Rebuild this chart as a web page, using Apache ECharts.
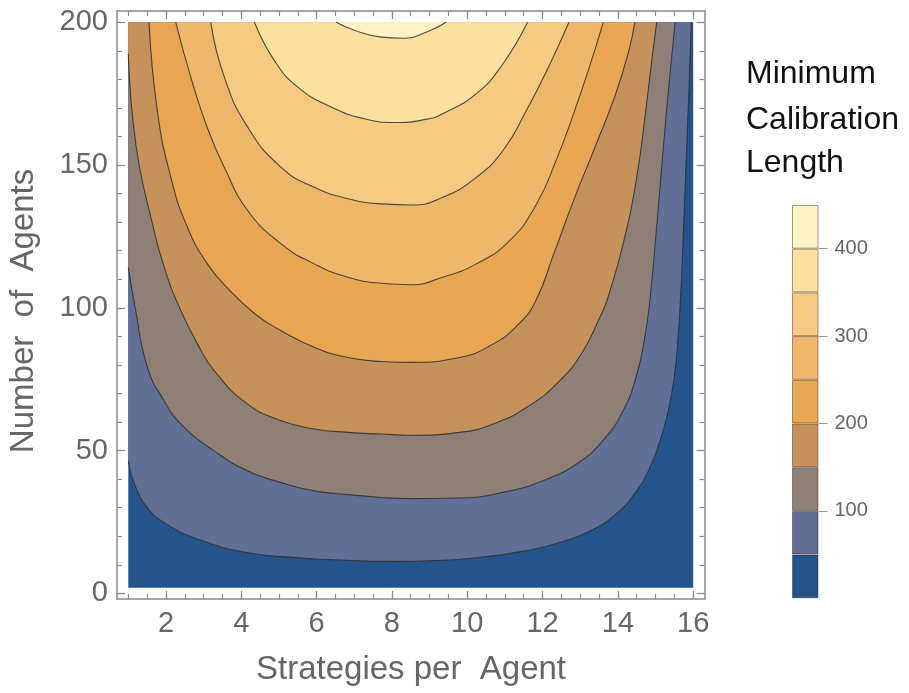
<!DOCTYPE html>
<html><head><meta charset="utf-8">
<script src="https://cdn.jsdelivr.net/npm/echarts@6/dist/echarts.min.js"></script>
<style>html,body{margin:0;padding:0;background:#fff}#c{width:909px;height:693px}</style>
</head><body><div id="c"></div>
<script>
// ---- data (s = strategies per agent, N = number of agents) ----
const xTickValues = [2, 4, 6, 8, 10, 12, 14, 16];
const yTickValues = [0, 50, 100, 150, 200];
const legendTickValues = [100, 200, 300, 400];
const contourLevels = [50, 100, 150, 200, 250, 300, 350, 400];
const legendEdges = [0, 50, 100, 150, 200, 250, 300, 350, 400, 450];
const dataRangeS = [1, 16];
const dataRangeN = [2, 200];

const level50 = [[1,46.4],[1.15,38.8],[1.5,30.1],[1.95,24.8],[2.85,19.0],[4.15,14.3],[5.5,12.5],[6.8,11.6],[8,11.2],[9.2,11.5],[10.25,12.5],[11.55,14.9],[12.45,17.8],[13.35,22.5],[13.95,27.8],[14.5,35.9],[14.85,44.1],[15.12,53.5],[15.34,64],[15.5,76],[15.6,90],[15.67,105],[15.75,130],[15.83,157],[15.9,181],[15.95,200]];
const level100 = [[1,114.2],[1.17,101],[1.51,79.1],[1.95,67.5],[2.4,59.3],[3.28,49.9],[4.17,42.9],[5.06,38.8],[5.94,35.9],[6.83,34.6],[7.72,33.6],[8.5,33.2],[9.8,33.4],[11.13,35.9],[12.0,39.4],[12.9,45.3],[13.6,53.5],[14.14,64],[14.48,75.6],[14.7,88.5],[14.84,101.5],[15.04,130],[15.2,155],[15.37,180],[15.52,200]];
const level150 = [[1,189],[1.2,157.4],[1.6,131.7],[2.04,110.7],[2.37,99.8],[2.84,87.3],[3.28,78],[4.17,66.3],[5.06,60.5],[5.94,57.6],[6.83,56.4],[7.72,55.8],[8.5,55.4],[9.8,56.4],[10.68,59.3],[11.57,65.1],[12.46,74.5],[13.08,85],[13.52,96.7],[13.72,103],[14.14,122.4],[14.5,145.7],[14.74,169.1],[14.9,186.6],[15.03,200]];
const level200 = [[1.55,200],[1.77,169.1],[2.13,145.7],[2.57,128.2],[3.1,115.4],[3.7,106],[4.4,97.5],[5.06,92],[5.94,86.2],[6.83,82.6],[7.72,81.2],[8.5,80.9],[9.8,82.6],[10.68,87.3],[11.3,93.5],[11.8,102],[12.3,119],[12.85,138.5],[13.4,156.5],[13.93,174.5],[14.28,189.5],[14.45,200]];
const level250 = [[2.26,200],[2.66,180.8],[3.1,163],[3.55,149.2],[4.17,134.1],[5.06,122.4],[5.94,115.4],[6.83,110.7],[7.72,108.6],[8.5,108.1],[9.35,110.7],[10.24,115.4],[11.13,123.6],[11.84,136.4],[12.37,152],[12.85,169],[13.26,185],[13.61,200]];
const level300 = [[3.19,200],[3.55,180.8],[4.17,163.3],[5.06,149.2],[5.94,142.2],[6.83,138.2],[7.72,136.4],[8.5,136],[9.35,138.7],[10.24,145.7],[10.95,155.1],[11.57,169.1],[12.2,185.5],[12.7,200]];
const level350 = [[4.35,200],[4.88,186.6],[5.5,177.3],[6.39,170.3],[7.27,166.2],[8.1,164.9],[8.9,166],[9.35,168],[10.24,175],[10.95,185.5],[11.6,200]];
const level400 = [[6.52,200],[7.0,197.2],[7.72,194.8],[8.3,194.4],[8.91,196.5],[9.44,200]];

const bandColors = ['#24548b','#616f96','#8f8077','#c6915a','#e8a552','#efb76c','#f7ca84','#fde09f','#fff3c4'];

// ---- chart ----
const contours = [level50, level100, level150, level200, level250, level300, level350, level400];
const FONT = '"Liberation Sans", Arial, sans-serif';
const xMin = 0.7, xMax = 16.3, yMin = -1.96, yMax = 203.96;
function steps(a, b, st) { const r = []; for (let v = a; v <= b + 1e-9; v += st) r.push(+v.toFixed(4)); return r; }
const frameLine = { color: '#8a8a8a', width: 1.5 };
const tickLine = { color: '#8a8a8a', width: 1.2 };

function xAx(pos, major, labels) {
  return {
    gridIndex: 0, type: 'value', position: pos, min: xMin, max: xMax,
    axisLine: { show: major, onZero: false, lineStyle: frameLine },
    axisTick: { show: true, inside: true, length: major ? 8 : 5, customValues: major ? xTickValues : steps(1, 16, 0.5), lineStyle: tickLine },
    axisLabel: labels ? { show: true, customValues: xTickValues, fontSize: 29, color: '#666', fontFamily: FONT, margin: 10 } : { show: false },
    splitLine: { show: false }
  };
}
function yAx(pos, major, labels) {
  return {
    gridIndex: 0, type: 'value', position: pos, min: yMin, max: yMax,
    axisLine: { show: major, onZero: false, lineStyle: frameLine },
    axisTick: { show: true, inside: true, length: major ? 8 : 5, customValues: major ? yTickValues : steps(0, 200, 10), lineStyle: tickLine },
    axisLabel: labels ? { show: true, customValues: yTickValues, fontSize: 29, color: '#666', fontFamily: FONT, margin: 9 } : { show: false },
    splitLine: { show: false }
  };
}

const series = [];
series.push({
  type: 'line', xAxisIndex: 0, yAxisIndex: 0, silent: true, symbol: 'none',
  data: [[dataRangeS[0], dataRangeN[0]], [dataRangeS[1], dataRangeN[0]]],
  lineStyle: { width: 0 },
  areaStyle: { color: bandColors[0], origin: dataRangeN[1], opacity: 1 }
});
contours.forEach((pts, i) => {
  series.push({
    type: 'line', name: String(contourLevels[i]), xAxisIndex: 0, yAxisIndex: 0, silent: true,
    symbol: 'none', showSymbol: false, smooth: 0.5, data: pts,
    lineStyle: { color: '#2e2e2e', width: 1.1, opacity: 0.85 },
    areaStyle: { color: bandColors[i + 1], origin: dataRangeN[1], opacity: 1 }
  });
});
legendEdges.slice(1).forEach((e, i) => {
  series.push({
    type: 'bar', xAxisIndex: 4, yAxisIndex: 4, stack: 'cb', silent: true,
    data: [e - legendEdges[i]], barWidth: '100%',
    itemStyle: { color: bandColors[i], borderColor: 'rgba(50,35,20,0.45)', borderWidth: 1 }
  });
});

const option = {
  animation: false,
  backgroundColor: '#ffffff',
  grid: [
    { left: 117, top: 11, width: 587.5, height: 588 },
    { left: 792, top: 205, width: 26.5, height: 393.3 }
  ],
  xAxis: [
    xAx('bottom', true, true), xAx('bottom', false, false),
    xAx('top', true, false), xAx('top', false, false),
    { gridIndex: 1, type: 'category', data: [''], show: false }
  ],
  yAxis: [
    yAx('left', true, true), yAx('left', false, false),
    yAx('right', true, false), yAx('right', false, false),
    {
      gridIndex: 1, type: 'value', position: 'right', min: legendEdges[0], max: legendEdges[legendEdges.length - 1],
      axisLine: { show: false },
      axisTick: { show: true, inside: false, length: 9, customValues: legendTickValues, lineStyle: { color: '#999', width: 1 } },
      axisLabel: { show: true, customValues: legendTickValues, fontSize: 20, color: '#666', fontFamily: FONT, margin: 16 },
      splitLine: { show: false }
    }
  ],
  series: series,
  graphic: [
    { type: 'text', x: 24, y: 311, rotation: Math.PI / 2, silent: true,
      style: { text: 'Number  of  Agents', fontSize: 33, fontFamily: FONT, fill: '#666', align: 'center', verticalAlign: 'middle' } },
    { type: 'text', x: 411, y: 670, silent: true,
      style: { text: 'Strategies per  Agent', fontSize: 33, fontFamily: FONT, fill: '#666', align: 'center', verticalAlign: 'middle' } },
    { type: 'text', x: 746, y: 74, silent: true,
      style: { text: 'Minimum', fontSize: 32, fontFamily: FONT, fill: '#111', align: 'left', verticalAlign: 'middle' } },
    { type: 'text', x: 746, y: 120, silent: true,
      style: { text: 'Calibration', fontSize: 32, fontFamily: FONT, fill: '#111', align: 'left', verticalAlign: 'middle' } },
    { type: 'text', x: 746, y: 163, silent: true,
      style: { text: 'Length', fontSize: 32, fontFamily: FONT, fill: '#111', align: 'left', verticalAlign: 'middle' } }
  ]
};
const chart = echarts.init(document.getElementById('c'));
chart.setOption(option);
</script>
</body></html>
